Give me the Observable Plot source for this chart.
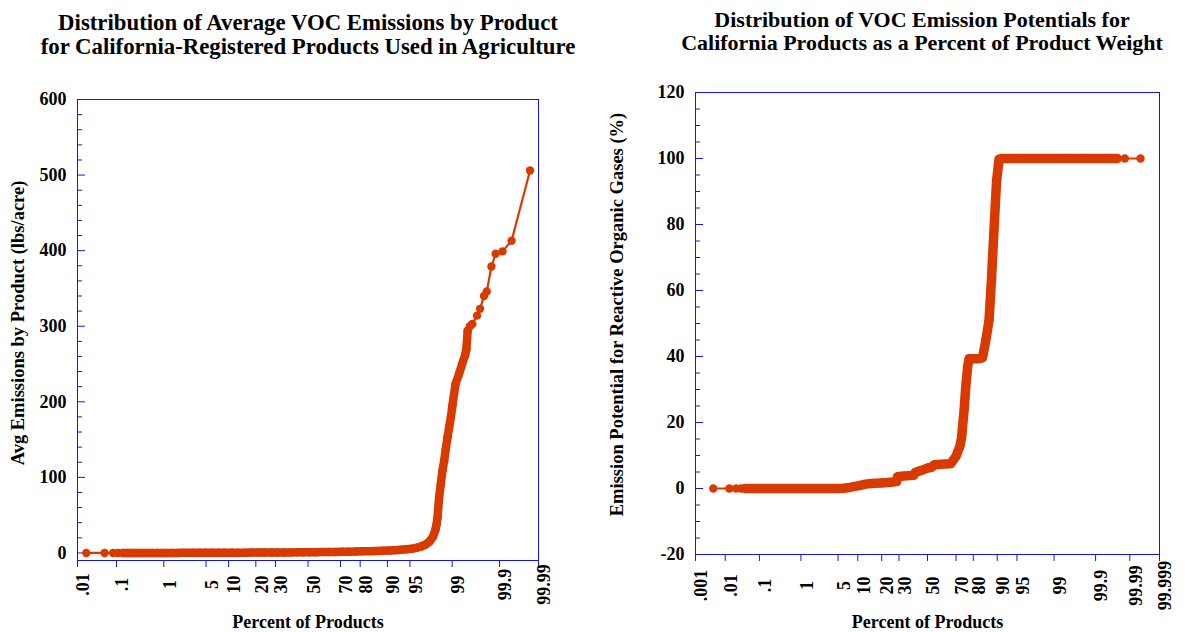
<!DOCTYPE html>
<html><head><meta charset="utf-8">
<script src="https://cdn.jsdelivr.net/npm/d3@7"></script>
<script src="https://cdn.jsdelivr.net/npm/@observablehq/plot@0.6"></script>
<style>
body{margin:0;background:#fff;}
#wrap{position:relative;width:1185px;height:632px;background:#fff;overflow:hidden;font-family:'Liberation Serif','Times New Roman',serif;}
.title{position:absolute;width:600px;text-align:center;font-weight:bold;color:#000;white-space:nowrap;}
.panel{position:absolute;top:0;}
</style></head>
<body><div id="wrap">
<div class="panel" id="left" style="left:0;width:592px"></div>
<div class="panel" id="right" style="left:592px;width:593px"></div>
<div class="title" style="left:8px;top:11px;font-size:22.8px;line-height:24px">Distribution of Average VOC Emissions by Product<br>for California-Registered Products Used in Agriculture</div>
<div class="title" style="left:622px;top:7.5px;font-size:22px;line-height:23.2px">Distribution of VOC Emission Potentials for<br>California Products as a Percent of Product Weight</div>
</div>
<script>
// ---------- data: [percent of products, value] ----------
const leftSeries = [
  [0.0174,0],[0.0516,0],[0.0827,0],[0.108,0],
  [0.14,0],[0.18,0],[0.22,0],[0.27,0],[0.33,0],[0.4,0],[0.5,0],[0.6,0],[0.75,0],[0.9,0],
  [1.1,0],[1.4,0],[1.7,0],[2.1,0.1],[2.6,0.1],[3.2,0.1],[4,0.2],[5,0.2],[6,0.2],[7.5,0.3],
  [9,0.3],[11,0.3],[13,0.4],[15.5,0.4],[18,0.5],[21,0.5],[24,0.5],[27.5,0.6],[31,0.6],
  [35,0.7],[39,0.7],[43,0.8],[47,0.8],[51,0.9],[55,1.0],[59,1.1],[63,1.2],[67,1.3],[71,1.5],
  [74.5,1.7],[78,1.9],[81,2.1],[84,2.4],[86.5,2.7],[88.5,3.0],[90.5,3.3],[92,3.7],[93.3,4.2],
  [94.4,4.8],[95.3,5.5],[96,6.8],[96.6,8.5],[97.1,11],[97.5,15],[97.8,21],[98.0,30],[98.1,38],
  [98.17,47],[98.22,60],[98.28,73],[98.39,91],[98.5,109],[98.6,122],[98.69,138],[98.78,153],
  [98.86,166],[98.94,179],[99.01,195],[99.08,211],[99.14,224],[99.26,237],[99.37,252],
  [99.44,262],[99.47,270],[99.5,294],[99.55,300],[99.6,303],[99.68,314],[99.725,323],
  [99.774,340],[99.804,346],[99.846,379],[99.877,396],[99.915,399],[99.949,413],[99.983,506]
];
const rightSeries = [
  [0.0041,0],[0.0135,0],[0.0217,0],[0.0304,0],[0.04,0],[0.06,0],[0.09,0],[0.13,0],[0.2,0],
  [0.3,0],[0.45,0],[0.7,0],[1,0],[1.5,0],[2.2,0],[3.2,0],[4.5,0],[6,0.1],[7,0.2],[8,0.4],
  [10,0.8],[12,1.2],[13.5,1.4],[15,1.5],[17,1.6],[20,1.7],[23,1.8],[25,1.9],[28.5,2.1],
  [29.1,3.6],[33,3.8],[37,3.9],[40,4.0],[41,4.8],[44,5.3],[47,5.7],[50,6.2],[53,6.4],
  [55,7.2],[58,7.3],[62,7.4],[66.6,7.5],[68,8.5],[70,9.8],[71,11],[72.5,13],[73.5,15.5],
  [74,18.6],[75,24],[75.9,30.7],[77,37],[77.75,39.3],[79,39.3],[81,39.3],[83,39.4],
  [84.4,39.6],[85.8,44.8],[87.1,51],[88,63],[88.9,78],[89.8,93.3],[90.6,99.8],[91.5,100],
  [93,100],[95,100],[97,100],[98.5,100],[99.3,100],[99.7,100],[99.85,100],[99.93,100],
  [99.9757,100],[99.9857,100],[99.9955,100]
];
const leftXTicks = [".01",".1","1","5","10","20","30","50","70","80","90","95","99","99.9","99.99"];
const rightXTicks = [".001",".01",".1","1","5","10","20","30","50","70","80","90","95","99","99.9","99.99","99.999"];
const leftYMajor = [0,100,200,300,400,500,600];
const leftYMinor = [20,40,60,80,120,140,160,180,220,240,260,280,320,340,360,380,420,440,460,480,520,540,560,580];
const rightYMajor = [-20,0,20,40,60,80,100,120];
const rightYMinor = [-15,-10,-5,5,10,15,25,30,35,45,50,55,65,70,75,85,90,95,105,110,115];
const titlesY = ["Avg Emissions by Product (lbs/acre)", "Emission Potential for Reactive Organic Gases (%)"];
const titleX = "Percent of Products";

// ---------- normal probability scale (inverse normal CDF, Acklam) ----------
function probit(p) {
  const a=[-3.969683028665376e+01,2.209460984245205e+02,-2.759285104469687e+02,1.383577518672690e+02,-3.066479806614716e+01,2.506628277459239e+00];
  const b=[-5.447609879822406e+01,1.615858368580409e+02,-1.556989798598866e+02,6.680131188771972e+01,-1.328068155288572e+01];
  const c=[-7.784894002430293e-03,-3.223964580411365e-01,-2.400758277161838e+00,-2.549732539343734e+00,4.374664141464968e+00,2.938163982698783e+00];
  const d=[7.784695709041462e-03,3.224671290700398e-01,2.445134137142996e+00,3.754408661907416e+00];
  const pl=0.02425, ph=1-pl;
  let q, r;
  if (p < pl) { q=Math.sqrt(-2*Math.log(p)); return (((((c[0]*q+c[1])*q+c[2])*q+c[3])*q+c[4])*q+c[5])/((((d[0]*q+d[1])*q+d[2])*q+d[3])*q+1); }
  if (p > ph) { q=Math.sqrt(-2*Math.log(1-p)); return -(((((c[0]*q+c[1])*q+c[2])*q+c[3])*q+c[4])*q+c[5])/((((d[0]*q+d[1])*q+d[2])*q+d[3])*q+1); }
  q=p-0.5; r=q*q;
  return (((((a[0]*r+a[1])*r+a[2])*r+a[3])*r+a[4])*r+a[5])*q/(((((b[0]*r+b[1])*r+b[2])*r+b[3])*r+b[4])*r+1);
}

const ORANGE = "#d83a00", BLUE = "#1414f0";
const FONT = "'Liberation Serif','Times New Roman',serif";

function panel(o) {
  const data = o.series.map(([p, v]) => ({p, v, z: probit(p / 100)}));
  const ticks = o.xTicks.map(s => ({z: probit(Number(s) / 100), s}));
  return Plot.plot({
    width: o.width, height: 632,
    marginLeft: o.ml, marginRight: o.mr, marginTop: o.mt, marginBottom: o.mb,
    style: {fontFamily: FONT, fontSize: "18px", fontWeight: "bold", background: "transparent", color: "#000", overflow: "visible"},
    x: {type: "linear", domain: [probit(o.pMin), probit(1 - o.pMin)]},
    y: {domain: o.yDomain},
    marks: [
      Plot.frame({stroke: BLUE}),
      Plot.axisX(ticks.map(d => d.z), {tickSize: 7, stroke: BLUE, fill: "none", label: null}),
      Plot.axisY(o.yMajor, {tickSize: -8, stroke: BLUE, fill: "none", label: null}),
      Plot.axisY(o.yMinor, {tickSize: -5, stroke: BLUE, fill: "none", label: null}),
      Plot.text(ticks, {x: "z", text: "s", frameAnchor: "bottom", rotate: -90, textAnchor: "middle", lineAnchor: "top", dy: o.tickDy, dx: -1, fill: "#000"}),
      Plot.text(o.yMajor, {y: d => d, text: d => String(d), frameAnchor: "left", textAnchor: "end", lineAnchor: "middle", dx: -11, fill: "#000"}),
      Plot.text([o.yLabel], {frameAnchor: "left", rotate: -90, textAnchor: "middle", lineAnchor: "middle", dx: o.yLabelDx, dy: o.yLabelDy, fill: "#000", fontSize: o.yLabelSize}),
      Plot.text([titleX], {frameAnchor: "bottom", textAnchor: "middle", lineAnchor: "middle", dy: o.xLabelDy, fill: "#000"}),
      Plot.line(data, {x: "z", y: "v", stroke: ORANGE, strokeWidth: 2.2}),
      Plot.line(data, {filter: d => d.p >= o.band[0] && d.p <= o.band[1], x: "z", y: "v", stroke: ORANGE, strokeWidth: o.bandWidth, strokeLinejoin: "round", strokeLinecap: "round"}),
      Plot.dot(data, {x: "z", y: "v", r: 4.2, fill: ORANGE})
    ]
  });
}

document.getElementById("left").append(panel({
  series: leftSeries, xTicks: leftXTicks, pMin: 1e-4, yDomain: [-10, 600],
  yMajor: leftYMajor, yMinor: leftYMinor, yLabel: titlesY[0], yLabelSize: 18.5,
  width: 592, ml: 77, mr: 54, mt: 99, mb: 72,
  tickDy: 24, yLabelDx: -59, yLabelDy: -7, xLabelDy: 62,
  band: [0.12, 99.5], bandWidth: 8.5
}));
document.getElementById("right").append(panel({
  series: rightSeries, xTicks: rightXTicks, pMin: 1e-5, yDomain: [-20, 120],
  yMajor: rightYMajor, yMinor: rightYMinor, yLabel: titlesY[1], yLabelSize: 18.5,
  width: 593, ml: 103, mr: 26, mt: 92, mb: 78,
  tickDy: 31, yLabelDx: -78, yLabelDy: -9, xLabelDy: 68,
  band: [0.035, 99.98], bandWidth: 9.5
}));
</script>
</body></html>
